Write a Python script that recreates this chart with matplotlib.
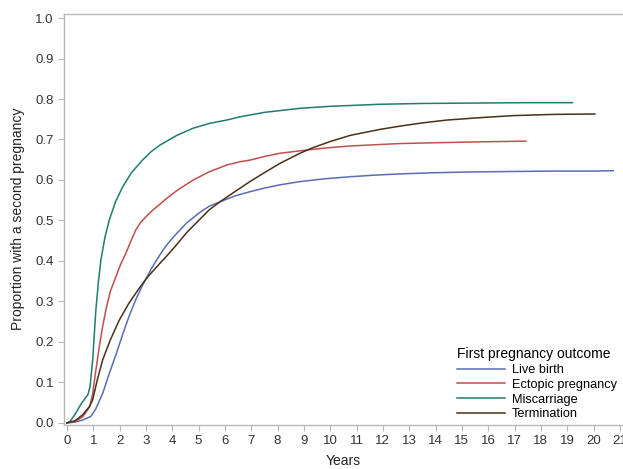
import matplotlib
matplotlib.use('Agg')
import matplotlib.pyplot as plt

plt.rcParams['font.family'] = ['Liberation Sans', 'DejaVu Sans']

# values (years, cumulative proportion)
live_x = [0.0, 0.3, 0.6, 0.91, 1.1, 1.36, 1.6, 1.86, 2.1, 2.37, 2.62, 2.87, 3.2, 3.53, 3.76, 4.1, 4.55, 5.05, 5.4, 5.81, 6.4, 6.95, 7.5, 8.09, 8.85, 9.8, 10.75, 11.7, 12.65, 14.0, 15.5, 17.0, 18.5, 20.0, 20.75]
live_y = [0.0, 0.002, 0.007, 0.016, 0.035, 0.073, 0.12, 0.168, 0.215, 0.265, 0.305, 0.34, 0.38, 0.415, 0.437, 0.463, 0.494, 0.52, 0.535, 0.546, 0.561, 0.571, 0.58, 0.588, 0.596, 0.603, 0.608, 0.612, 0.615, 0.618, 0.62, 0.621, 0.622, 0.622, 0.623]

ect_x = [0.0, 0.3, 0.6, 0.87, 0.98, 1.1, 1.23, 1.35, 1.48, 1.65, 1.86, 2.05, 2.24, 2.45, 2.62, 2.8, 3.0, 3.25, 3.53, 3.76, 4.2, 4.8, 5.4, 6.07, 6.57, 6.95, 7.5, 8.09, 8.85, 9.8, 10.75, 11.7, 12.65, 14.0, 15.5, 16.5, 17.43]
ect_y = [0.0, 0.003, 0.015, 0.04, 0.073, 0.13, 0.188, 0.235, 0.279, 0.325, 0.361, 0.393, 0.419, 0.452, 0.477, 0.495, 0.509, 0.525, 0.54, 0.553, 0.575, 0.6, 0.62, 0.637, 0.645, 0.649, 0.658, 0.666, 0.672, 0.679, 0.684, 0.687, 0.69, 0.692, 0.694, 0.695, 0.696]

mis_x = [0.0, 0.11, 0.3, 0.55, 0.8, 0.88, 0.98, 1.1, 1.2, 1.29, 1.45, 1.61, 1.85, 2.12, 2.45, 2.87, 3.2, 3.53, 4.17, 4.8, 5.43, 6.07, 6.57, 7.5, 8.85, 10.0, 11.89, 13.5, 15.5, 17.5, 19.2]
mis_y = [0.0, 0.003, 0.02, 0.048, 0.07, 0.09, 0.156, 0.279, 0.35, 0.402, 0.46, 0.501, 0.547, 0.583, 0.618, 0.649, 0.67, 0.686, 0.71, 0.728, 0.74, 0.748, 0.756, 0.767, 0.777, 0.782, 0.787, 0.789, 0.79, 0.791, 0.791]

term_x = [0.0, 0.3, 0.6, 0.85, 0.98, 1.15, 1.36, 1.65, 1.99, 2.35, 2.75, 3.1, 3.53, 3.76, 4.1, 4.55, 5.05, 5.4, 5.81, 6.4, 6.95, 7.5, 8.09, 8.85, 9.35, 10.0, 10.75, 11.89, 12.65, 13.5, 14.42, 15.7, 16.95, 18.5, 20.05]
term_y = [0.0, 0.005, 0.02, 0.04, 0.057, 0.105, 0.156, 0.205, 0.254, 0.295, 0.333, 0.363, 0.394, 0.41, 0.435, 0.47, 0.503, 0.526, 0.546, 0.572, 0.596, 0.618, 0.641, 0.666, 0.68, 0.695, 0.71, 0.725, 0.733, 0.741, 0.748, 0.754, 0.759, 0.762, 0.763]

series = [
    ('Live birth', live_x, live_y, '#5a6db3'),
    ('Ectopic pregnancy', ect_x, ect_y, '#c0504d'),
    ('Miscarriage', mis_x, mis_y, '#207c6e'),
    ('Termination', term_x, term_y, '#4a3018'),
]

fig = plt.figure(figsize=(6.23, 4.69), dpi=100)
ax = fig.add_axes([64 / 623, 1 - 424.5 / 469, 1 - 64 / 623, (424.5 - 14) / 469])

for name, xs, ys, col in series:
    ax.plot(xs, ys, color=col, lw=1.1, label=name)

ax.set_xlim(-0.11, 21.12)
ax.set_ylim(-0.004, 1.01)
ax.set_xticks(range(0, 22))
ax.set_yticks([i / 10 for i in range(11)])
ax.set_yticklabels(['%.1f' % (i / 10) for i in range(11)])

for s in ['left', 'top', 'bottom']:
    ax.spines[s].set_color('#b8b8b8')
    ax.spines[s].set_linewidth(1.0)
ax.spines['right'].set_visible(False)
ax.tick_params(colors='#b8b8b8', labelcolor='#333333', labelsize=9.5, length=4, width=0.8)

ax.set_xlabel('Years', fontsize=10, color='#222222', labelpad=5)
ax.set_ylabel('Proportion with a second pregnancy', fontsize=10, color='#222222', labelpad=7)

leg = ax.legend(title='First pregnancy outcome', loc='lower right', bbox_to_anchor=(1.005, -0.012),
                frameon=False, fontsize=9.2, title_fontsize=10, handlelength=3.8,
                handletextpad=0.5, labelspacing=0.22, borderaxespad=0.3)
leg._legend_box.align = 'left'

fig.savefig('out.png', dpi=100)
